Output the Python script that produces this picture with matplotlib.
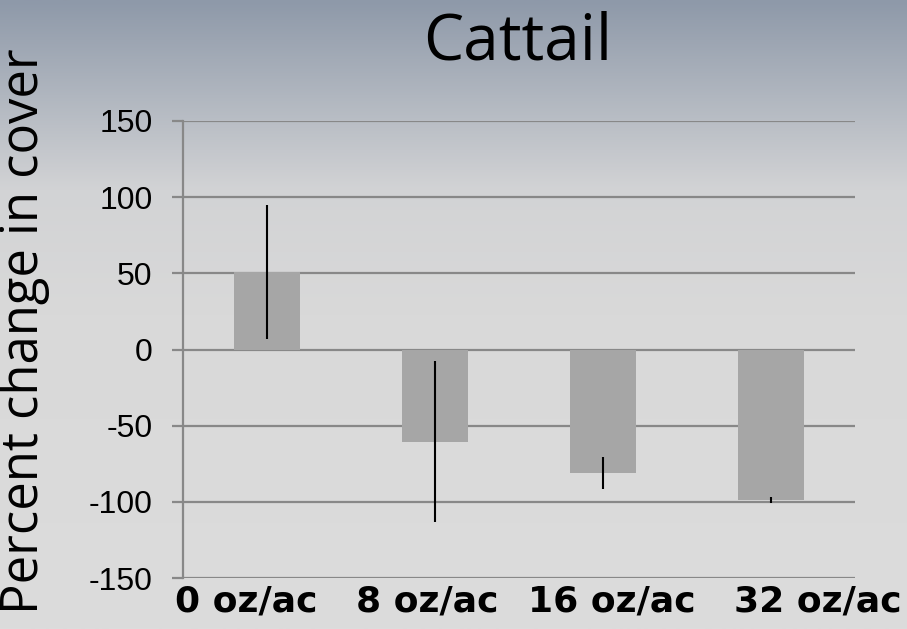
import matplotlib
matplotlib.use("Agg")
import matplotlib.pyplot as plt
import matplotlib.transforms as mtransforms
import numpy as np
from matplotlib.colors import LinearSegmentedColormap

categories = ["0 oz/ac", "8 oz/ac", "16 oz/ac", "32 oz/ac"]
pct_change = [51, -60.5, -81, -99]
err = [44, 53, 10.5, 2]
yticks = [-150, -100, -50, 0, 50, 100, 150]

fig = plt.figure(figsize=(9.07, 6.29), dpi=100)

# slide-style background: blue-grey at the top fading to light grey
bg = fig.add_axes([0, 0, 1, 1], zorder=-10)
bg.axis("off")
cmap = LinearSegmentedColormap.from_list(
    "bg", [(0.0, "#8e99a9"), (0.3, "#d2d3d5"), (0.5, "#d9d9d9"), (1.0, "#dcdcdc")])
grad = np.linspace(0, 1, 256).reshape(-1, 1)
bg.imshow(grad, aspect="auto", cmap=cmap, extent=[0, 1, 0, 1])

ax = fig.add_axes([183 / 907, 51 / 629, 672 / 907, 457 / 629])
ax.patch.set_alpha(0)

x = np.arange(len(categories))
ax.bar(x, pct_change, width=0.39, color="#a6a6a6", zorder=2)
ax.errorbar(x, pct_change, yerr=err, fmt="none", ecolor="black",
            elinewidth=1.5, capsize=0, zorder=3)

ax.set_xlim(-0.5, len(categories) - 0.5)
ax.set_ylim(-150, 150)
ax.set_yticks(yticks)
ax.set_yticklabels([str(v) for v in yticks], fontsize=23, family="Liberation Sans")
ax.yaxis.grid(True, color="#888888", linewidth=1.6, zorder=1)
ax.set_axisbelow(True)
ax.tick_params(axis="y", length=8, width=1.6, color="#888888", pad=14)
ax.tick_params(axis="x", length=0, pad=5)
ax.set_xticks(x)
ax.set_xticklabels(categories, fontsize=26, fontweight="bold", family="DejaVu Sans")

# the category labels are spread a little wider than the bars
shifts_px = [-21, -8, 9, 47]
for lab, dx in zip(ax.get_xticklabels(), shifts_px):
    lab.set_transform(lab.get_transform()
                      + mtransforms.ScaledTranslation(dx / 100, 0, fig.dpi_scale_trans))

for side in ["top", "right", "bottom"]:
    ax.spines[side].set_visible(False)
ax.spines["left"].set_color("#888888")
ax.spines["left"].set_linewidth(1.6)

fig.text(518 / 907, 1 - 60 / 629, "Cattail", ha="center", va="baseline",
         fontsize=46, family="Open Sans")
fig.text(38 / 907, 1 - 331 / 629, "Percent change in cover", ha="center", va="baseline",
         rotation=90, fontsize=36.5, family="Open Sans", rotation_mode="anchor")

fig.savefig("out.png", dpi=100)
